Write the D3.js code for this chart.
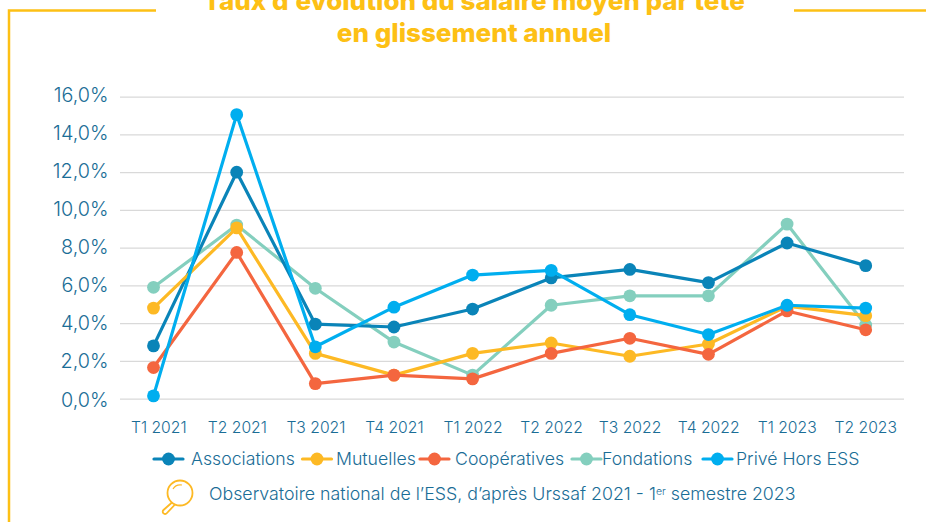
<!DOCTYPE html>
<html>
<head>
<meta charset="utf-8">
<script src="https://cdn.jsdelivr.net/npm/d3@7"></script>
<style>
	html, body { margin: 0; padding: 0; background: #fff; }
	svg { display: block; font-family: "Inter", sans-serif; }
</style>
</head>
<body>
<svg id="chart" width="926" height="522"></svg>
<script>
var quarters = ["T1 2021","T2 2021","T3 2021","T4 2021","T1 2022","T2 2022","T3 2022","T4 2022","T1 2023","T2 2023"];
var yTicks = [0,2,4,6,8,10,12,14,16];

var associations = [2.8,12.0,3.95,3.8,4.75,6.4,6.85,6.15,8.25,7.05];
var mutuelles = [4.8,9.05,2.4,1.25,2.4,2.95,2.25,2.9,4.9,4.4];
var cooperatives = [1.65,7.75,0.8,1.25,1.05,2.4,3.2,2.35,4.65,3.65];
var fondations = [5.9,9.2,5.85,3.0,1.25,4.95,5.45,5.45,9.25,3.9];
var prive = [0.15,15.05,2.75,4.85,6.55,6.8,4.45,3.4,4.95,4.8];

var seriesNames = ["Associations", "Mutuelles", "Coop\u00e9ratives", "Fondations", "Priv\u00e9 Hors ESS"];
var seriesValues = [associations, mutuelles, cooperatives, fondations, prive];

var titleLines = ["Taux d\u2019\u00e9volution du salaire moyen par t\u00eate", "en glissement annuel"];
var sourceText = "Observatoire national de l\u2019ESS, d\u2019apr\u00e8s Urssaf 2021 - 1";

var seriesColors = ["#0a84b8", "#fdb924", "#f4663f", "#84cfbe", "#00aeef"];
var legendLineX = [154, 302.5, 420, 572, 703];
var legendTextX = [191, 336, 455, 602, 736];

var legendSeries = seriesNames.map(function(name, i) {
	return {name: name, color: seriesColors[i], values: seriesValues[i], lineX: legendLineX[i], textX: legendTextX[i]};
});
// stacking order of the lines is not the legend order
var drawOrder = [fondations, associations, mutuelles, cooperatives, prive];

var textColor = "#1a6d96";
var frameColor = "#fdc015";

var svg = d3.select("#chart");

// frame
svg.append("path")
	.attr("d", "M156,10.5H9V522")
	.attr("fill", "none").attr("stroke", frameColor).attr("stroke-width", 2.5);
svg.append("path")
	.attr("d", "M794,10.5H926")
	.attr("fill", "none").attr("stroke", frameColor).attr("stroke-width", 2.5);

// title (the first line is cut by the top edge in the original too)
svg.selectAll(".title").data(titleLines).enter().append("text")
	.attr("class", "title")
	.attr("x", 474)
	.attr("y", function(d, i) { return 10 + i * 32; })
	.attr("text-anchor", "middle")
	.attr("font-size", 26)
	.attr("font-weight", 800)
	.attr("fill", frameColor)
	.text(function(d) { return d; });

var yScale = d3.scaleLinear().domain([0, 16]).range([398.7, 96.7]);
var yLabelBase = d3.scaleLinear().domain([0, 16]).range([406, 101.7]);
var xBand = d3.scaleBand().domain(quarters).range([119.5, 905]);
// the first quarter sits a little left of its label in the original
var xPoint = d3.scaleLinear().domain([0, 1, 9]).range([153.5, 236.7, 865.7]);

// grid + y axis
var yAxis = d3.axisLeft(yScale)
	.tickValues(yTicks)
	.tickSize(-(904 - 120))
	.tickPadding(11.5)
	.tickFormat(function(d) { return d.toFixed(1).replace(".", ",") + "%"; });
var gy = svg.append("g").attr("transform", "translate(120,0)").call(yAxis);
gy.select(".domain").remove();
gy.selectAll(".tick line").attr("stroke", "#d9d9d9").attr("stroke-width", 1.3);
gy.selectAll(".tick text")
	.attr("fill", textColor)
	.attr("font-size", 19.8)
	.attr("font-weight", 300)
	.attr("font-family", "Inter, sans-serif")
	.attr("dy", null)
	.attr("y", function(d) { return yLabelBase(d) - yScale(d); });

// x axis
var xAxis = d3.axisBottom(xBand).tickSize(0).tickPadding(22.5);
var gx = svg.append("g").attr("transform", "translate(0,399)").call(xAxis);
gx.select(".domain").remove();
gx.selectAll(".tick text")
	.attr("fill", textColor)
	.attr("font-size", 15.7)
	.attr("font-weight", 300)
	.attr("font-family", "Inter, sans-serif");

// lines
var line = d3.line()
	.x(function(d, i) { return xPoint(i); })
	.y(function(d) { return yScale(d); });

drawOrder.forEach(function(values) {
	var s = legendSeries.filter(function(d) { return d.values === values; })[0];
	var g = svg.append("g");
	g.append("path")
		.attr("d", line(values))
		.attr("fill", "none")
		.attr("stroke", s.color)
		.attr("stroke-width", 3.2)
		.attr("stroke-linejoin", "round");
	g.selectAll("circle").data(values).enter().append("circle")
		.attr("cx", function(d, i) { return xPoint(i); })
		.attr("cy", function(d) { return yScale(d); })
		.attr("r", 6.4)
		.attr("fill", s.color);
});

// legend
var leg = svg.selectAll(".leg").data(legendSeries).enter().append("g")
	.attr("class", "leg");
leg.append("line")
	.attr("x1", function(d) { return d.lineX; })
	.attr("x2", function(d) { return d.lineX + 29; })
	.attr("y1", 459).attr("y2", 459)
	.attr("stroke", function(d) { return d.color; })
	.attr("stroke-width", 3.2)
	.attr("stroke-linecap", "round");
leg.append("circle")
	.attr("cx", function(d) { return d.lineX + 14.5; })
	.attr("cy", 459)
	.attr("r", 6.4)
	.attr("fill", function(d) { return d.color; });
leg.append("text")
	.attr("x", function(d) { return d.textX; })
	.attr("y", 465)
	.attr("font-size", 17.7)
	.attr("font-weight", 300)
	.attr("fill", textColor)
	.text(function(d) { return d.name; });

// magnifier icon
var icon = svg.append("g").attr("fill", "none").attr("stroke", "#fdb924").attr("stroke-width", 1.8);
icon.append("circle").attr("cx", 180).attr("cy", 493).attr("r", 12.5);
icon.append("path").attr("d", "M172,502.5L163.5,510C161,512.5 165,515.5 167,513L175,504.5");
icon.append("path").attr("d", "M173,489C175,485.5 179,484.5 182,485").attr("stroke-width", 1.2);

// source
var src = svg.append("text")
	.attr("x", 209).attr("y", 500)
	.attr("font-size", 17.8)
	.attr("font-weight", 300)
	.attr("fill", textColor)
	.text(sourceText);
src.append("tspan").attr("font-size", 10.5).attr("dy", -5).text("er");
src.append("tspan").attr("dy", 5).text(" semestre 2023");
</script>
</body>
</html>
